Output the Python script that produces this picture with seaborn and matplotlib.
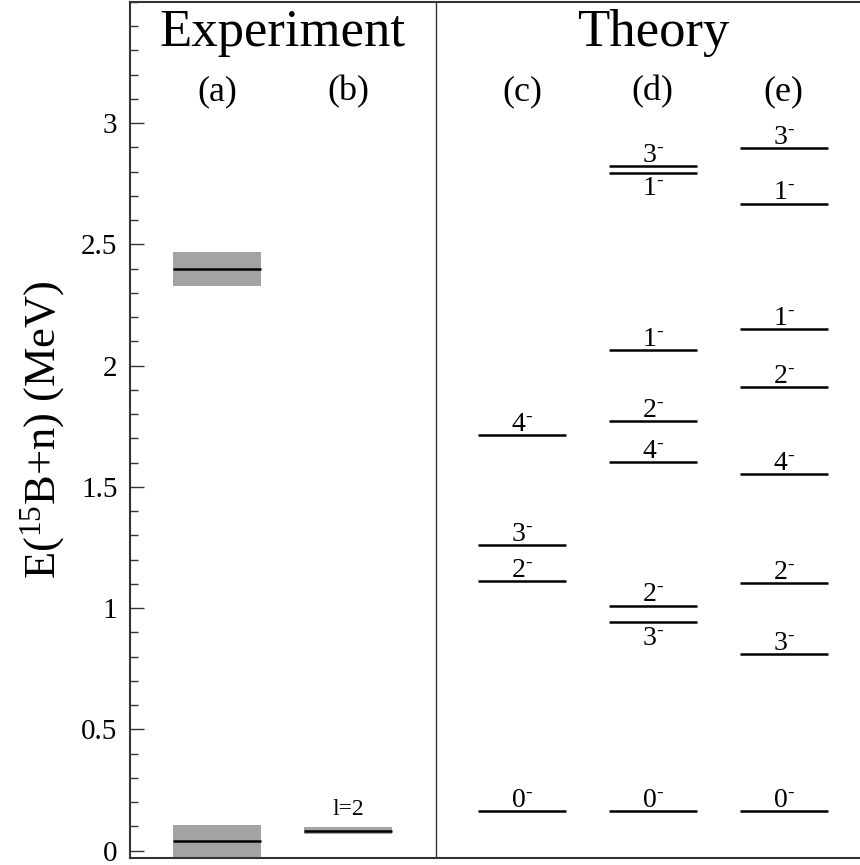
import numpy as np
import pandas as pd
import matplotlib
matplotlib.use('Agg')
import matplotlib.pyplot as plt
from matplotlib.ticker import MultipleLocator
import seaborn as sns

# experimental levels: energy and half width of the grey band (MeV)
exp_a_energy = [0.04, 2.40]
exp_a_halfwidth = [0.065, 0.07]
exp_b_energy = [0.083]
exp_b_halfwidth = [0.014]
exp_b_label = 'l=2'

# theory levels, spin labels (all negative parity)
c_energy = [0.162, 1.112, 1.261, 1.714]
c_spin = ['0', '2', '3', '4']
d_energy = [0.162, 0.942, 1.011, 1.604, 1.772, 2.064, 2.795, 2.822]
d_spin = ['0', '3', '2', '4', '2', '1', '1', '3']
e_energy = [0.162, 0.812, 1.104, 1.552, 1.912, 2.151, 2.669, 2.898]
e_spin = ['0', '3', '2', '4', '2', '1', '1', '3']

column_names = ['(a)', '(b)', '(c)', '(d)', '(e)']

sns.set_style('ticks')
plt.rcParams['font.family'] = ['Liberation Serif', 'DejaVu Serif']
plt.rcParams['mathtext.fontset'] = 'custom'
plt.rcParams['mathtext.rm'] = 'Liberation Serif'
plt.rcParams['mathtext.it'] = 'Liberation Serif:italic'
plt.rcParams['text.color'] = 'black'
plt.rcParams['axes.labelcolor'] = 'black'
plt.rcParams['ytick.labelcolor'] = 'black'

fig = plt.figure(figsize=(8.6, 8.65), dpi=100)
ax = fig.add_axes([130 / 860, 7 / 865, 732 / 860, 856 / 865])

centers = [0.667, 1.67, 3.0, 4.0, 5.0]
half = 0.337
divider = 2.34

# experiment columns
for x0, energies, widths in [(centers[0], exp_a_energy, exp_a_halfwidth),
                             (centers[1], exp_b_energy, exp_b_halfwidth)]:
    for e, w in zip(energies, widths):
        ax.fill_between([x0 - half, x0 + half], e - w, e + w,
                        color='#a3a3a3', lw=0, zorder=1)
        ax.hlines(e, x0 - half, x0 + half, color='black', lw=1.8, zorder=2)

ax.annotate(exp_b_label, (centers[1], exp_b_energy[0] + exp_b_halfwidth[0]),
            xytext=(0, 9), textcoords='offset points', ha='center',
            va='baseline', fontsize=17)

# theory columns
theory = pd.DataFrame({
    'col': [2] * len(c_energy) + [3] * len(d_energy) + [4] * len(e_energy),
    'energy': c_energy + d_energy + e_energy,
    'spin': c_spin + d_spin + e_spin,
})
below = {(3, 0.942), (3, 2.795)}

for _, row in theory.iterrows():
    x0 = centers[row['col']]
    ax.hlines(row['energy'], x0 - half, x0 + half, color='black', lw=1.8)
    label = row['spin'] + r'$^{\text{-}}$'
    if (row['col'], row['energy']) in below:
        dy = -16
    else:
        dy = 3
    ax.annotate(label, (x0, row['energy']), xytext=(0, dy),
                textcoords='offset points', ha='center', va='baseline',
                fontsize=20)

ax.axvline(divider, color='#333333', lw=1.0)

ax.text((centers[0] + centers[1]) / 2, 0.964, 'Experiment', transform=ax.get_xaxis_transform(),
        ha='center', va='center', fontsize=38)
ax.text(centers[3], 0.964, 'Theory', transform=ax.get_xaxis_transform(),
        ha='center', va='center', fontsize=38)
for x0, name in zip(centers, column_names):
    ax.text(x0, 0.895, name, transform=ax.get_xaxis_transform(),
            ha='center', va='center', fontsize=26)

ax.set_xlim(0, 5.6)
ax.set_ylim(-0.03, 3.5)
ax.yaxis.set_major_locator(MultipleLocator(0.5))
ax.yaxis.set_minor_locator(MultipleLocator(0.1))
ax.set_yticks([0, 0.5, 1, 1.5, 2, 2.5, 3])
ax.set_yticklabels(['0', '0.5', '1', '1.5', '2', '2.5', '3'])
ax.set_xticks([])
ax.tick_params(axis='y', which='major', direction='in', length=10, width=1,
               labelsize=21, pad=9, color='#333333', labelcolor='black')
ax.tick_params(axis='y', which='minor', direction='in', length=6, width=1,
               color='#333333')
ax.set_ylabel(r'E($^{\mathregular{15}}$B+n) (MeV)', fontsize=32, labelpad=10)

for side in ['left', 'top', 'bottom']:
    ax.spines[side].set_color('#333333')
    ax.spines[side].set_linewidth(1.5)
ax.spines['right'].set_visible(False)

fig.savefig('out.png', dpi=100)
